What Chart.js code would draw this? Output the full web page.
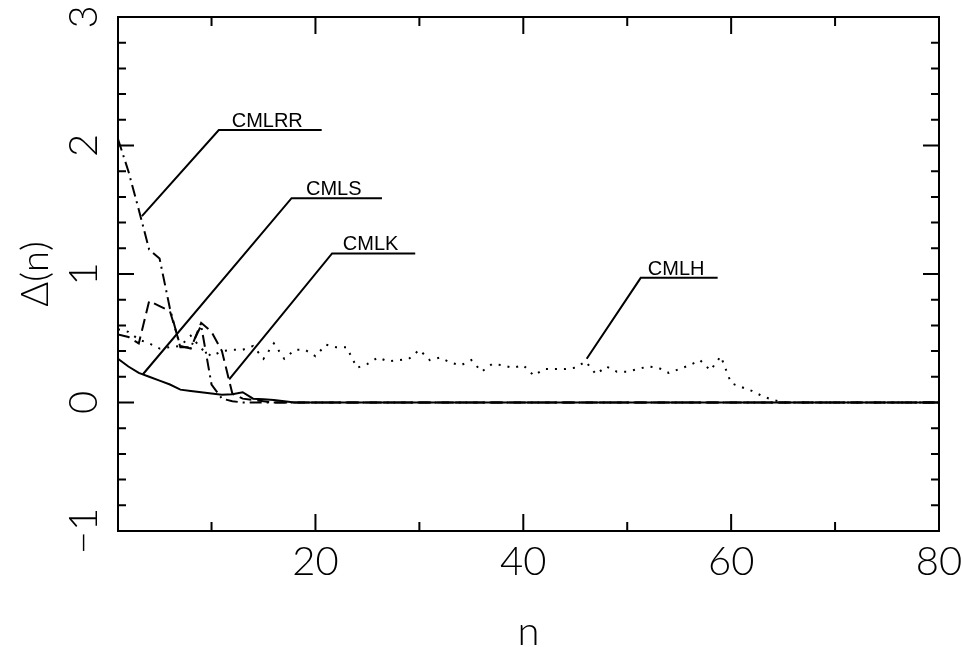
<!DOCTYPE html>
<html lang="en">
<head>
    <meta charset="UTF-8">
    <title>Delta(n) vs n</title>
    <script src="https://cdn.jsdelivr.net/npm/chart.js"></script>
    <style>
        html, body { margin: 0; padding: 0; background: #fff; }
        #wrap { width: 962px; height: 647px; position: relative; }
    </style>
</head>
<body>
    <div id="wrap"><canvas id="chart"></canvas></div>

    <script>
        // n values and Delta(n) for each method
        const cmlrrN = [1, 2, 3, 4, 5, 6, 7, 8, 9, 10, 11, 12, 13, 80];
        const cmlrrD = [2.05, 1.80, 1.50, 1.19, 1.12, 0.73, 0.43, 0.43, 0.60, 0.14, 0.03, 0.01, 0, 0];

        const cmlsN = [1, 2, 3, 4, 5, 6, 7, 8, 9, 10, 11, 12, 13, 14, 15, 16, 17, 18, 80];
        const cmlsD = [0.34, 0.28, 0.23, 0.20, 0.17, 0.14, 0.10, 0.09, 0.08, 0.07, 0.06, 0.065, 0.08, 0.03, 0.025, 0.02, 0.01, 0, 0];

        const cmlkN = [1, 2, 3, 4, 5, 6, 7, 8, 9, 10, 11, 12, 13, 14, 15, 16, 80];
        const cmlkD = [0.53, 0.51, 0.46, 0.79, 0.75, 0.71, 0.44, 0.42, 0.62, 0.55, 0.40, 0.07, 0.03, 0.02, 0.01, 0, 0];

        const cmlhN = [1, 2, 3, 4, 5, 6, 7, 8, 9, 10, 11, 12, 13, 14, 15, 16, 17, 18, 19, 20,
                       21, 22, 23, 24, 25, 26, 27, 28, 29, 30, 31, 32, 33, 34, 35, 36, 37, 38, 39, 40,
                       41, 42, 43, 44, 45, 46, 47, 48, 49, 50, 51, 52, 53, 54, 55, 56, 57, 58, 59, 60,
                       61, 62, 63, 64, 65, 80];
        const cmlhD = [0.57, 0.55, 0.49, 0.46, 0.42, 0.43, 0.44, 0.52, 0.42, 0.36, 0.40, 0.41, 0.41, 0.44, 0.34, 0.46, 0.34, 0.41, 0.41, 0.36,
                       0.45, 0.43, 0.43, 0.27, 0.30, 0.35, 0.32, 0.33, 0.34, 0.41, 0.33, 0.35, 0.31, 0.29, 0.33, 0.24, 0.30, 0.29, 0.27, 0.29,
                       0.21, 0.26, 0.26, 0.26, 0.27, 0.32, 0.22, 0.28, 0.24, 0.24, 0.26, 0.28, 0.27, 0.23, 0.26, 0.29, 0.33, 0.25, 0.36, 0.15,
                       0.12, 0.09, 0.05, 0.02, 0, 0];

        const xTicks = [10, 20, 30, 40, 50, 60, 70, 80];
        const xLabels = [20, 40, 60, 80];
        const yLabels = [-1, 0, 1, 2, 3];

        // callout labels: tip on curve, elbow, end of underline (data units)
        const calloutText = ['CMLRR', 'CMLS', 'CMLK', 'CMLH'];
        const calloutTip = [[3.3, 1.45], [3.4, 0.22], [11.7, 0.18], [46.1, 0.34]];
        const calloutElbow = [[10.7, 2.12], [17.7, 1.59], [21.6, 1.16], [51.3, 0.97]];
        const calloutEnd = [[20.6, 2.12], [26.4, 1.59], [29.6, 1.16], [58.7, 0.97]];

        const pts = (ns, ds) => ns.map((n, i) => ({ x: n, y: ds[i] }));
        const thin = "Lato, 'DejaVu Sans', sans-serif";

        const framePlugin = {
            id: 'frame',
            afterDatasetsDraw(chart) {
                const ctx = chart.ctx;
                const a = chart.chartArea;
                const xs = chart.scales.x, ys = chart.scales.y;
                ctx.save();
                ctx.strokeStyle = '#000';
                ctx.lineWidth = 2;
                ctx.strokeRect(a.left, a.top, a.right - a.left, a.bottom - a.top);

                // inward ticks, top and bottom
                ctx.beginPath();
                xTicks.forEach(v => {
                    const px = xs.getPixelForValue(v);
                    const len = v % 20 === 0 ? 17 : 9;
                    ctx.moveTo(px, a.bottom); ctx.lineTo(px, a.bottom - len);
                    ctx.moveTo(px, a.top); ctx.lineTo(px, a.top + len);
                });
                // inward ticks, left and right
                for (let i = 0; i <= 20; i++) {
                    const v = -1 + i * 0.2;
                    const py = ys.getPixelForValue(v);
                    const len = i % 5 === 0 ? 16 : 8;
                    ctx.moveTo(a.left, py); ctx.lineTo(a.left + len, py);
                    ctx.moveTo(a.right, py); ctx.lineTo(a.right - len, py);
                }
                ctx.stroke();

                ctx.fillStyle = '#000';
                ctx.font = '300 40px ' + thin;
                ctx.textAlign = 'center';
                ctx.textBaseline = 'alphabetic';
                // x labels
                xLabels.forEach(v => {
                    ctx.fillText(String(v), xs.getPixelForValue(v), 575);
                });
                // rotated y labels
                ctx.textBaseline = 'middle';
                yLabels.forEach(v => {
                    const py = ys.getPixelForValue(v);
                    ctx.save();
                    ctx.translate(84, py);
                    ctx.rotate(-Math.PI / 2);
                    ctx.fillText(v < 0 ? '\u2212' + Math.abs(v) : String(v), 0, 0);
                    ctx.restore();
                });

                // callouts
                ctx.lineWidth = 2;
                ctx.font = '20px "Liberation Sans", Arial, sans-serif';
                ctx.textBaseline = 'alphabetic';
                calloutText.forEach((t, i) => {
                    const tx = xs.getPixelForValue(calloutTip[i][0]), ty = ys.getPixelForValue(calloutTip[i][1]);
                    const ex = xs.getPixelForValue(calloutElbow[i][0]), ey = ys.getPixelForValue(calloutElbow[i][1]);
                    const fx = xs.getPixelForValue(calloutEnd[i][0]), fy = ys.getPixelForValue(calloutEnd[i][1]);
                    ctx.beginPath();
                    ctx.moveTo(tx, ty); ctx.lineTo(ex, ey); ctx.lineTo(fx, fy);
                    ctx.stroke();
                    ctx.fillText(t, (ex + fx) / 2 - 3, ey - 3);
                });
                ctx.restore();
            }
        };

        const common = { borderColor: '#000', borderWidth: 2, pointRadius: 0, tension: 0, fill: false };

        new Chart(document.getElementById('chart'), {
            type: 'line',
            data: {
                datasets: [
                    Object.assign({ label: 'CMLRR', data: pts(cmlrrN, cmlrrD), borderDash: [12, 5, 2, 5] }, common),
                    Object.assign({ label: 'CMLS', data: pts(cmlsN, cmlsD) }, common),
                    Object.assign({ label: 'CMLK', data: pts(cmlkN, cmlkD), borderDash: [12, 6] }, common),
                    Object.assign({ label: 'CMLH', data: pts(cmlhN, cmlhD), borderDash: [2, 7] }, common)
                ]
            },
            options: {
                responsive: true,
                maintainAspectRatio: false,
                animation: false,
                layout: { padding: { left: 0, right: 23, top: 17, bottom: 0 } },
                plugins: { legend: { display: false }, tooltip: { enabled: false } },
                scales: {
                    x: {
                        type: 'linear',
                        min: 1,
                        max: 80,
                        afterFit: s => { s.height = 116; },
                        grid: { display: false, drawTicks: false },
                        border: { display: false },
                        ticks: { display: false },
                        title: { display: true, text: 'n', color: '#000', padding: 0, font: { family: thin, weight: '300', size: 40, lineHeight: 0.75 } }
                    },
                    y: {
                        min: -1,
                        max: 3,
                        afterFit: s => { s.width = 118; },
                        grid: { display: false, drawTicks: false },
                        border: { display: false },
                        ticks: { display: false },
                        title: { display: true, text: '\u0394(n)', color: '#000', padding: { top: 17 }, font: { family: thin, weight: '300', size: 38, lineHeight: 1 } }
                    }
                }
            },
            plugins: [framePlugin]
        });
    </script>
</body>
</html>
